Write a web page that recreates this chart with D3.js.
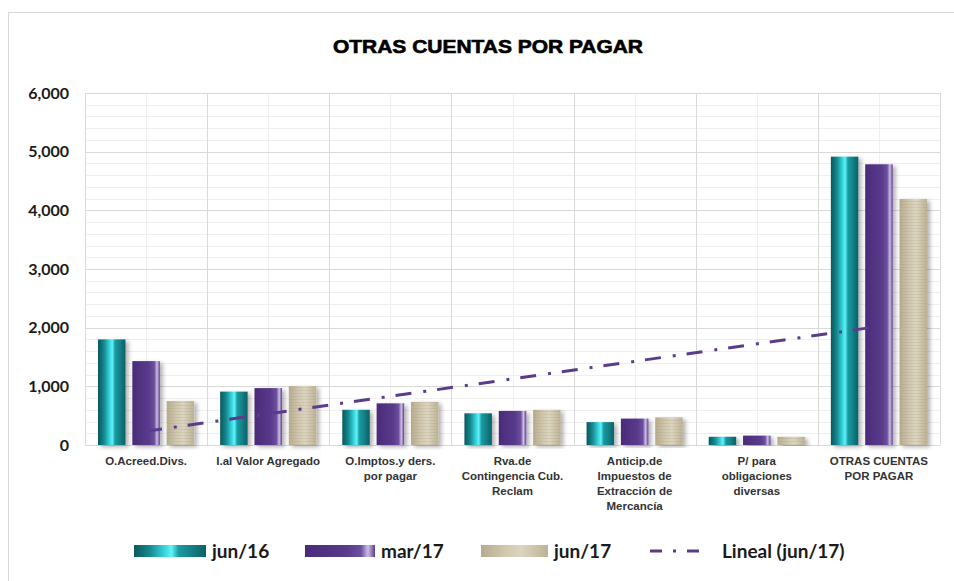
<!DOCTYPE html>
<html>
<head>
<meta charset="utf-8">
<script src="https://cdn.jsdelivr.net/npm/d3@7"></script>
<style>
  body { margin: 0; background: #fff; }
  svg { display: block; }
</style>
</head>
<body>
<div id="chart-area"></div>
<script>
// data
let categories = [
  "O.Acreed.Divs.",
  "I.al Valor Agregado",
  "O.Imptos.y ders. por pagar",
  "Rva.de Contingencia Cub. Reclam",
  "Anticip.de Impuestos de Extracción de Mercancía",
  "P/ para obligaciones diversas",
  "OTRAS CUENTAS POR PAGAR"
];
let labelLines = [
  ["O.Acreed.Divs."],
  ["I.al Valor Agregado"],
  ["O.Imptos.y ders.", "por pagar"],
  ["Rva.de", "Contingencia Cub.", "Reclam"],
  ["Anticip.de", "Impuestos de", "Extracción de", "Mercancía"],
  ["P/ para", "obligaciones", "diversas"],
  ["OTRAS CUENTAS", "POR PAGAR"]
];
let seriesNames = ["jun/16", "mar/17", "jun/17"];
let jun16 = [1800, 910, 600, 540, 390, 140, 4915];
let mar17 = [1430, 970, 710, 580, 450, 160, 4785];
let jun17 = [750, 1005, 735, 600, 470, 140, 4195];
let yTicks = [0, 1000, 2000, 3000, 4000, 5000, 6000];

let W = 954, H = 581;
let plot = {left: 85, top: 93, right: 940, bottom: 445};

let svg = d3.select("#chart-area").append("svg")
  .attr("width", W)
  .attr("height", H);

let defs = svg.append("defs");

// bar gradients
function grad(id, stops) {
  let g = defs.append("linearGradient").attr("id", id)
    .attr("x1", "0%").attr("x2", "100%").attr("y1", "0%").attr("y2", "0%");
  stops.forEach(s => g.append("stop").attr("offset", s[0]).attr("stop-color", s[1]));
}
grad("g-jun16", [["0%", "#0b585c"], ["22%", "#148990"], ["44%", "#3cdbe4"], ["52%", "#62f2f7"], ["62%", "#1a9ca3"], ["100%", "#0c6165"]]);
grad("g-mar17", [["0%", "#4a2b7a"], ["60%", "#593a8b"], ["80%", "#6c4f9e"], ["90%", "#cdbfe4"], ["100%", "#5b3b8e"]]);
grad("g-jun17", [["0%", "#b6ab8d"], ["35%", "#d0c7ae"], ["60%", "#dcd5c1"], ["100%", "#bdb295"]]);
let fills = ["url(#g-jun16)", "url(#g-mar17)", "url(#g-jun17)"];

// faint horizontal texture for the beige bars
let tex = defs.append("pattern").attr("id", "tex")
  .attr("patternUnits", "userSpaceOnUse").attr("width", 6).attr("height", 3);
tex.append("rect").attr("width", 6).attr("height", 1).attr("fill", "#a89d80").attr("opacity", 0.25);

let shadow = defs.append("filter").attr("id", "shadow")
  .attr("x", "-20%").attr("y", "-5%").attr("width", "160%").attr("height", "115%");
shadow.append("feDropShadow").attr("dx", 3).attr("dy", 2)
  .attr("stdDeviation", 2).attr("flood-color", "#000").attr("flood-opacity", 0.3);

// outer border
svg.append("rect")
  .attr("x", 8.5).attr("y", 12.5)
  .attr("width", 960).attr("height", 600)
  .attr("fill", "none").attr("stroke", "#d9d9d9");

// title
svg.append("text")
  .attr("x", 333).attr("y", 53)
  .attr("textLength", 310)
  .attr("lengthAdjust", "spacingAndGlyphs")
  .style("font-family", "'Liberation Sans', Arial, sans-serif")
  .style("font-weight", "bold")
  .style("font-size", "18px")
  .style("fill", "#000")
  .style("stroke", "#000")
  .style("stroke-width", "0.6px")
  .text("OTRAS CUENTAS POR PAGAR");

// Scales
let x0 = d3.scaleBand()
  .domain(categories)
  .range([plot.left, plot.right])
  .padding(0);

let x1 = d3.scaleBand()
  .domain(seriesNames)
  .range([13, x0.bandwidth() - 13])
  .paddingInner(0.2);

let y = d3.scaleLinear()
  .domain([0, 6000])
  .range([plot.bottom, plot.top]);

// gridlines
let grid = svg.append("g");
grid.selectAll(".minor-h")
  .data(d3.range(200, 6000, 200).filter(v => v % 1000 !== 0))
  .join("line")
  .attr("x1", plot.left).attr("x2", plot.right)
  .attr("y1", d => Math.round(y(d)) + 0.5).attr("y2", d => Math.round(y(d)) + 0.5)
  .attr("stroke", "#efefef");
grid.selectAll(".minor-v")
  .data(categories)
  .join("line")
  .attr("x1", d => Math.round(x0(d) + x0.bandwidth() / 2) + 0.5)
  .attr("x2", d => Math.round(x0(d) + x0.bandwidth() / 2) + 0.5)
  .attr("y1", plot.top).attr("y2", plot.bottom)
  .attr("stroke", "#efefef");
grid.selectAll(".major-h")
  .data(yTicks)
  .join("line")
  .attr("x1", plot.left).attr("x2", plot.right)
  .attr("y1", d => Math.round(y(d)) + 0.5).attr("y2", d => Math.round(y(d)) + 0.5)
  .attr("stroke", "#d9d9d9");
grid.selectAll(".major-v")
  .data(categories.concat(["end"]))
  .join("line")
  .attr("x1", (d, i) => Math.round(i < categories.length ? x0(d) : plot.right) + 0.5)
  .attr("x2", (d, i) => Math.round(i < categories.length ? x0(d) : plot.right) + 0.5)
  .attr("y1", plot.top).attr("y2", plot.bottom)
  .attr("stroke", "#d9d9d9");

// y axis
let yAxis = d3.axisLeft(y)
  .tickValues(yTicks)
  .tickSize(0)
  .tickPadding(16)
  .tickFormat(d3.format(","));
let yAxisGroup = svg.append("g")
  .attr("transform", "translate(" + plot.left + ",0)")
  .call(yAxis);
yAxisGroup.select(".domain").remove();
yAxisGroup.selectAll("text")
  .style("font-family", "Lato, 'Open Sans', sans-serif")
  .style("font-weight", "bold")
  .style("font-size", "16px")
  .style("fill", "#1a1a1a");

// bars
let allSeries = [jun16, mar17, jun17];
let rows = [];
categories.forEach((c, i) => {
  seriesNames.forEach((s, j) => {
    rows.push({cat: c, series: s, idx: j, value: allSeries[j][i]});
  });
});

let bars = svg.append("g");
bars.selectAll("rect.bar")
  .data(rows)
  .join("rect")
  .attr("class", "bar")
  .attr("x", d => x0(d.cat) + x1(d.series))
  .attr("y", d => y(d.value))
  .attr("width", x1.bandwidth())
  .attr("height", d => y(0) - y(d.value))
  .attr("fill", d => fills[d.idx])
  .attr("filter", "url(#shadow)");
bars.selectAll("rect.tex")
  .data(rows.filter(d => d.idx === 2))
  .join("rect")
  .attr("class", "tex")
  .attr("x", d => x0(d.cat) + x1(d.series))
  .attr("y", d => y(d.value))
  .attr("width", x1.bandwidth())
  .attr("height", d => y(0) - y(d.value))
  .attr("fill", "url(#tex)");

// linear trendline of jun/17 (least squares)
let xs = jun17.map((v, i) => i + 1);
let mx = d3.mean(xs), my = d3.mean(jun17);
let slope = d3.sum(xs, (xv, i) => (xv - mx) * (jun17[i] - my)) / d3.sum(xs, xv => (xv - mx) * (xv - mx));
let intercept = my - slope * mx;
let trend = categories.map((c, i) => ({cat: c, v: intercept + slope * (i + 1)}));

svg.append("path")
  .datum([trend[0], trend[trend.length - 1]])
  .attr("d", d3.line()
    .x(d => x0(d.cat) + x0.bandwidth() / 2)
    .y(d => y(d.v)))
  .attr("fill", "none")
  .attr("stroke", "#5b3b8c")
  .attr("stroke-width", 3)
  .attr("stroke-dasharray", "16 12 3 11");

// x labels
let xl = svg.append("g")
  .selectAll("text")
  .data(categories)
  .join("text")
  .attr("x", d => x0(d) + x0.bandwidth() / 2)
  .attr("y", 465)
  .attr("text-anchor", "middle")
  .style("font-family", "'Liberation Sans', Arial, sans-serif")
  .style("font-weight", "bold")
  .style("font-size", "11.5px")
  .style("fill", "#333");
xl.selectAll("tspan")
  .data((d, i) => labelLines[i])
  .join("tspan")
  .attr("x", function() { return d3.select(this.parentNode).attr("x"); })
  .attr("dy", (d, i) => i === 0 ? 0 : 15)
  .text(d => d);

// legend
let legendItems = [
  {name: "jun/16", fill: fills[0], x: 134, w: 72},
  {name: "mar/17", fill: fills[1], x: 305, w: 70},
  {name: "jun/17", fill: fills[2], x: 481, w: 67},
  {name: "Lineal (jun/17)", fill: null, x: 650, w: 56}
];
let legend = svg.append("g");
legendItems.forEach(it => {
  if (it.fill) {
    legend.append("rect")
      .attr("x", it.x).attr("y", 545)
      .attr("width", it.w).attr("height", 12)
      .attr("fill", it.fill);
  } else {
    legend.append("line")
      .attr("x1", it.x).attr("x2", it.x + it.w)
      .attr("y1", 551).attr("y2", 551)
      .attr("stroke", "#5b3b8c")
      .attr("stroke-width", 3)
      .attr("stroke-dasharray", "12 11 3 11");
  }
  legend.append("text")
    .attr("x", it.x + it.w + (it.fill ? 6 : 16))
    .attr("y", 558)
    .style("font-family", "Lato, 'Open Sans', sans-serif")
    .style("font-weight", "bold")
    .style("font-size", "19px")
    .style("fill", "#1a1a1a")
    .text(it.name);
});
</script>
</body>
</html>
